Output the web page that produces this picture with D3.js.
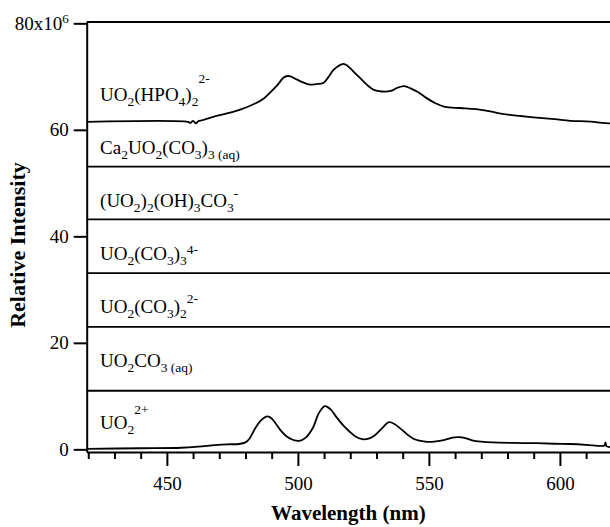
<!DOCTYPE html>
<html lang="en">
<head>
<meta charset="UTF-8">
<title>Uranyl species luminescence spectra</title>
<script src="https://d3js.org/d3.v7.min.js"></script>
<style>
  body { margin: 0; background: #fff; }
  svg text { font-family: 'Liberation Serif', 'Times New Roman', serif; fill: #000; }
  .axis path, .axis line { stroke: #000; stroke-width: 2; }
</style>
</head>
<body>
<div id="chart"></div>
<script>
// axis settings
const wlDomain = [419.4, 620];
const intDomain = [-0.5, 80.25];
const yTicks = [0, 20, 40, 60, 80];
const xMajorTicks = [450, 500, 550, 600];
const xMinorTicks = [420, 430, 440, 460, 470, 480, 490, 510, 520, 530, 540, 560, 570, 580, 590, 610, 620];

// UO2(HPO4)2 2- spectrum (offset already included), x10^6
const hpo4Wl  = [419.4, 458, 459, 460, 461, 462, 463.4, 468, 472.3, 478, 483.9, 487, 489, 492, 494.8, 496.8, 499, 501.5, 504.5, 507, 509.7, 511.5, 513.5, 515.5, 517.4, 519, 521.3, 524, 526.5, 529, 532, 535.5, 538, 540.6, 543, 545.8, 549, 552.5, 556.1, 562, 567.8, 573, 578.1, 585, 591, 598, 604, 610, 613, 616, 620];
const hpo4Val = [61.5, 61.5, 61.3, 61.7, 61.2, 61.6, 61.8, 62.5, 63.0, 63.8, 65.0, 65.9, 66.8, 68.3, 69.9, 70.1, 69.6, 69.0, 68.5, 68.6, 68.8, 69.8, 71.2, 72.0, 72.4, 72.0, 70.9, 69.6, 68.4, 67.5, 67.2, 67.3, 67.9, 68.2, 67.8, 67.1, 66.0, 65.0, 64.3, 64.1, 63.9, 63.5, 63.0, 62.6, 62.3, 62.0, 61.7, 61.6, 61.5, 61.3, 61.2];

// free UO2 2+ spectrum
const uo2Wl  = [419.4, 440, 455.5, 462, 468.4, 473, 477.5, 480, 481.5, 483.9, 486, 488.4, 490, 491.6, 493.5, 495.5, 498, 500.6, 503, 505.8, 508, 510.3, 512.5, 514.8, 517.5, 520, 522, 524.5, 527, 529, 532, 534.8, 537, 539.4, 542, 544.5, 548, 551, 554, 556.1, 559, 561.3, 564, 566.5, 570, 574.2, 582, 591, 598, 604, 610, 615.5, 617, 617.4, 617.8, 620];
const uo2Val = [0.1, 0.2, 0.3, 0.5, 0.8, 0.95, 1.0, 1.3, 2.0, 4.1, 5.5, 6.2, 5.8, 4.8, 3.5, 2.5, 1.8, 1.6, 2.2, 4.1, 6.8, 8.1, 7.5, 6.0, 4.4, 3.2, 2.4, 1.9, 2.0, 2.5, 3.9, 5.1, 4.7, 3.8, 2.7, 1.9, 1.5, 1.4, 1.6, 1.8, 2.2, 2.3, 2.1, 1.7, 1.45, 1.3, 1.2, 1.15, 1.05, 1.0, 0.85, 0.65, 0.7, 1.3, 0.6, 0.4];

// species with no signal: flat traces at their offsets
const flatOffsets = [53.1, 43.2, 33.1, 23.0, 11.0];
const flatWl = [419.4, 620];

// species labels: [text, "" | "sub" | "sup"]
const labelTexts = [
  [["UO", ""], ["2", "sub"], ["(HPO", ""], ["4", "sub"], [")", ""], ["2", "sub"], ["2-", "sup"]],
  [["Ca", ""], ["2", "sub"], ["UO", ""], ["2", "sub"], ["(CO", ""], ["3", "sub"], [")", ""], ["3", "sub"], [" (aq)", "sub"]],
  [["(UO", ""], ["2", "sub"], [")", ""], ["2", "sub"], ["(OH)", ""], ["3", "sub"], ["CO", ""], ["3", "sub"], ["-", "sup"]],
  [["UO", ""], ["2", "sub"], ["(CO", ""], ["3", "sub"], [")", ""], ["3", "sub"], ["4-", "sup"]],
  [["UO", ""], ["2", "sub"], ["(CO", ""], ["3", "sub"], [")", ""], ["2", "sub"], ["2-", "sup"]],
  [["UO", ""], ["2", "sub"], ["CO", ""], ["3 (aq)", "sub"]],
  [["UO", ""], ["2", "sub"], ["2+", "sup"]]
];
const labelLevels = [65.5, 55.5, 45.5, 35.6, 25.6, 15.5, 3.8];
const labelWl = 424.5;

const width = 610, height = 527;
const supShift = [-18, 0, -9, -6, -10, -15, -15];

const svg = d3.select("#chart").append("svg")
  .attr("width", width)
  .attr("height", height);

const x = d3.scaleLinear().domain(wlDomain).range([86.7, 612.3]);
const y = d3.scaleLinear().domain(intDomain).range([452, 22]);

// top frame line
svg.append("line")
  .attr("x1", x(wlDomain[0])).attr("x2", x(wlDomain[1]))
  .attr("y1", y(intDomain[1])).attr("y2", y(intDomain[1]))
  .attr("stroke", "#000").attr("stroke-width", 2);

// traces
const line = d3.line()
  .x(d => x(d[0]))
  .y(d => y(d[1]))
  .curve(d3.curveCatmullRom.alpha(0.5));

const traces = [d3.zip(hpo4Wl, hpo4Val)];
flatOffsets.forEach(o => traces.push(flatWl.map(w => [w, o])));
traces.push(d3.zip(uo2Wl, uo2Val));

svg.selectAll(".trace")
  .data(traces)
  .enter().append("path")
  .attr("class", "trace")
  .attr("d", line)
  .attr("fill", "none")
  .attr("stroke", "#000")
  .attr("stroke-width", 1.8);

// y axis
const yAxis = svg.append("g")
  .attr("class", "axis")
  .attr("transform", `translate(${x(wlDomain[0])},0)`)
  .call(d3.axisLeft(y).tickValues(yTicks).tickSizeInner(13).tickSizeOuter(0).tickPadding(5).tickFormat(d3.format("d")));
yAxis.selectAll("text").style("font-size", "19px");
yAxis.selectAll(".tick").filter(d => d === 80).select("text")
  .text("80x10")
  .append("tspan").attr("dy", "-0.5em").style("font-size", "13px").text("6");

// x axis: minor then major ticks
svg.append("g")
  .attr("class", "axis")
  .attr("transform", `translate(0,${y(intDomain[0])})`)
  .call(d3.axisBottom(x).tickValues(xMinorTicks).tickSize(7).tickFormat(""))
  .call(g => g.select(".domain").remove());

const xAxis = svg.append("g")
  .attr("class", "axis")
  .attr("transform", `translate(0,${y(intDomain[0])})`)
  .call(d3.axisBottom(x).tickValues(xMajorTicks).tickSizeInner(14).tickSizeOuter(0).tickPadding(11).tickFormat(d3.format("d")));
xAxis.selectAll("text").style("font-size", "19px");

// species labels
labelTexts.forEach((segs, i) => {
  const by = y(labelLevels[i]);
  const t = svg.append("text")
    .attr("x", x(labelWl))
    .attr("y", by)
    .style("font-size", "19px");
  segs.forEach(([s, kind]) => {
    const ts = t.append("tspan").text(s);
    if (kind === "sub") ts.attr("y", by + 5).style("font-size", "13.5px");
    else if (kind === "sup") ts.attr("y", by + supShift[i]).style("font-size", "13.5px");
    else ts.attr("y", by);
  });
});

// axis titles
svg.append("text")
  .attr("x", (x(wlDomain[0]) + width) / 2)
  .attr("y", 520)
  .attr("text-anchor", "middle")
  .style("font-size", "21px")
  .style("font-weight", "bold")
  .text("Wavelength (nm)");

svg.append("text")
  .attr("transform", `translate(25,${(y(intDomain[0]) + y(intDomain[1])) / 2 + 8}) rotate(-90)`)
  .attr("text-anchor", "middle")
  .style("font-size", "22px")
  .style("font-weight", "bold")
  .text("Relative Intensity");
</script>
</body>
</html>
